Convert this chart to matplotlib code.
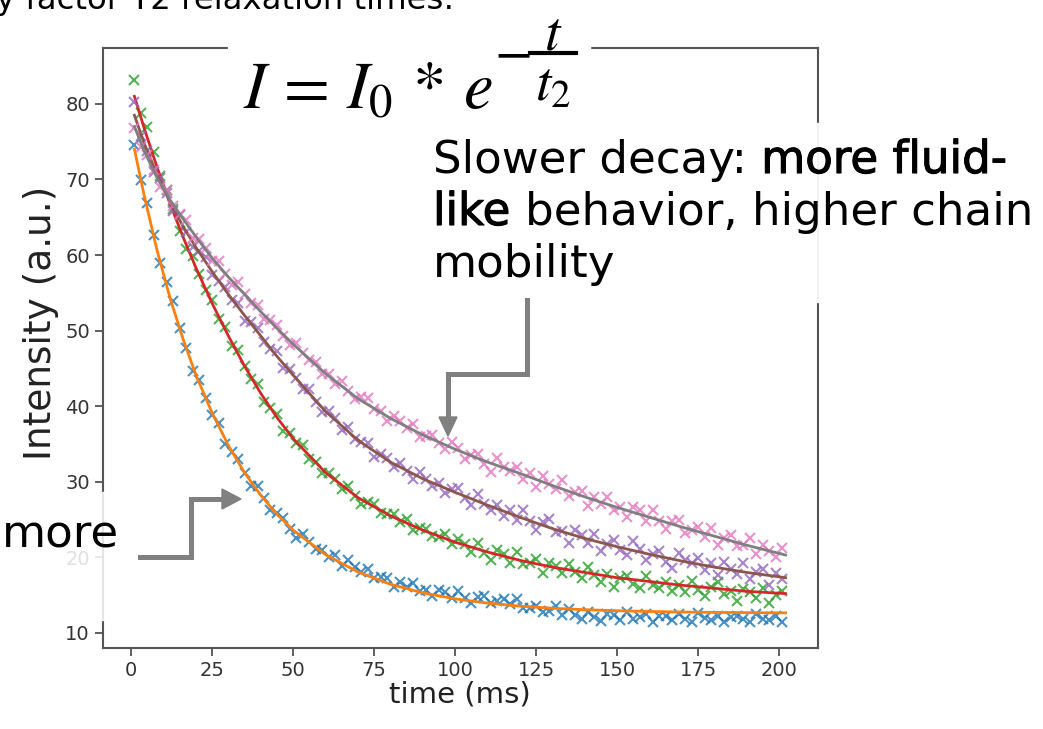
import matplotlib
matplotlib.use("Agg")
import matplotlib.pyplot as plt
import matplotlib.patheffects as pe
from matplotlib.lines import Line2D
from matplotlib.patches import Rectangle, Polygon

plt.rcParams['mathtext.fontset'] = 'stix'

# sample times (ms) of the measured points
t = list(range(1, 202, 2))

blue = [74.6, 69.9, 66.9, 62.7, 58.9, 56.5, 53.9, 50.4, 47.7, 44.6,
        43.4, 41.1, 38.8, 37.8, 35.0, 34.0, 33.0, 31.1, 29.5, 29.4,
        27.9, 26.2, 25.8, 25.2, 23.7, 22.6, 23.1, 22.0, 21.1, 21.0,
        20.1, 20.3, 18.9, 19.6, 18.7, 18.1, 18.5, 17.2, 17.4, 17.3,
        16.1, 16.7, 16.1, 16.6, 15.5, 15.7, 14.9, 15.7, 15.4, 14.6,
        15.5, 14.6, 14.0, 14.7, 14.9, 13.9, 14.2, 14.5, 13.8, 14.5,
        13.3, 13.3, 13.5, 12.8, 12.9, 13.6, 12.4, 13.1, 12.4, 11.9,
        12.8, 12.1, 11.6, 12.5, 12.4, 11.7, 12.7, 11.9, 12.1, 12.5,
        11.4, 12.3, 12.2, 11.7, 12.5, 11.9, 11.5, 12.6, 12.0, 11.7,
        12.3, 11.4, 12.1, 12.3, 11.8, 11.5, 12.5, 11.9, 11.7, 12.2,
        11.5]

green = [83.2, 78.8, 76.9, 73.6, 70.4, 68.6, 66.1, 63.2, 60.8, 59.9,
         57.5, 55.4, 54.0, 51.6, 50.5, 47.9, 47.4, 45.3, 43.6, 43.0,
         40.6, 39.8, 38.9, 36.7, 36.4, 35.1, 34.8, 33.0, 32.6, 31.1,
         31.2, 30.4, 29.1, 29.4, 28.1, 27.0, 27.3, 27.1, 25.8, 25.7,
         25.7, 24.7, 25.1, 23.6, 23.9, 23.8, 22.8, 22.7, 23.1, 21.7,
         22.4, 21.7, 20.7, 21.9, 20.6, 19.6, 21.0, 20.5, 19.2, 20.7,
         19.1, 19.3, 19.8, 17.9, 19.3, 18.8, 17.9, 19.1, 18.1, 17.3,
         18.7, 17.6, 16.8, 17.8, 16.1, 17.3, 17.5, 16.5, 15.9, 17.5,
         16.4, 15.9, 16.7, 15.5, 16.4, 15.4, 16.9, 15.7, 14.9, 16.1,
         16.7, 15.1, 15.5, 14.2, 15.8, 15.4, 14.6, 15.9, 14.0, 15.0,
         15.6]

purple = [80.2, 75.7, 73.8, 71.0, 70.2, 68.2, 65.8, 65.3, 63.0, 61.1,
          60.6, 59.7, 57.3, 56.6, 55.8, 54.0, 53.7, 51.3, 51.1, 50.3,
          48.5, 47.6, 47.3, 45.0, 44.9, 43.7, 42.3, 42.3, 40.6, 39.2,
          39.3, 38.4, 36.9, 37.2, 35.7, 35.2, 35.1, 33.3, 33.7, 33.1,
          32.0, 32.5, 31.4, 30.4, 31.3, 30.3, 29.5, 29.9, 28.5, 29.0,
          29.2, 27.8, 26.9, 28.4, 27.1, 26.3, 26.9, 25.5, 26.2, 24.9,
          26.2, 24.8, 23.6, 24.7, 25.1, 23.3, 23.5, 21.9, 23.6, 22.9,
          21.9, 23.1, 20.9, 21.7, 22.3, 21.0, 20.3, 22.1, 21.1, 19.6,
          20.4, 20.8, 19.4, 18.6, 20.6, 19.7, 19.2, 19.9, 18.3, 19.3,
          17.6, 19.4, 18.4, 17.8, 19.3, 17.1, 18.1, 18.4, 16.4, 17.9,
          17.1]

pink = [76.8, 74.3, 73.3, 71.3, 69.0, 68.6, 66.5, 65.4, 64.7, 62.3,
        62.1, 60.9, 59.2, 59.2, 57.5, 56.0, 56.4, 54.9, 53.6, 53.4,
        51.5, 51.4, 50.8, 49.3, 48.1, 48.4, 47.0, 46.1, 45.8, 44.3,
        44.2, 43.0, 43.3, 42.0, 40.9, 41.2, 41.1, 39.6, 39.4, 38.1,
        38.7, 38.1, 37.1, 37.6, 35.9, 36.1, 36.2, 35.1, 34.4, 35.2,
        34.5, 33.0, 33.5, 33.7, 32.3, 31.3, 33.1, 32.0, 31.4, 31.9,
        30.3, 31.1, 29.3, 30.8, 29.7, 29.0, 30.2, 28.1, 28.7, 28.8,
        26.8, 28.0, 27.1, 28.0, 26.2, 26.6, 25.4, 26.7, 26.2, 24.8,
        26.3, 24.8, 23.7, 24.8, 24.9, 23.2, 23.6, 24.0, 22.7, 23.9,
        21.6, 22.6, 22.9, 21.5, 21.6, 22.6, 20.5, 21.6, 20.9, 20.0,
        21.2]

# fitted curves, read at these times
t_fit = [1, 4, 8, 12, 16, 20, 25, 30, 35, 40, 45, 50, 60, 70, 80, 90,
         100, 110, 120, 130, 140, 150, 160, 170, 180, 190, 202]
fit_blue = [74.0, 67.9, 60.6, 54.3, 48.9, 44.1, 39.1, 34.8, 31.2, 28.2,
            25.7, 23.6, 20.35, 18.06, 16.44, 15.30, 14.50, 13.94, 13.54,
            13.26, 13.07, 12.93, 12.83, 12.76, 12.72, 12.68, 12.65]
fit_green = [81.0, 76.8, 71.6, 66.8, 62.4, 58.3, 53.6, 49.3, 45.3, 41.7,
             38.5, 35.7, 31.2, 27.9, 25.5, 23.6, 22.0, 20.7, 19.6, 18.7,
             18.0, 17.3, 16.8, 16.3, 15.9, 15.5, 15.2]
fit_purple = [78.5, 74.8, 70.6, 67.0, 63.8, 61.0, 57.8, 54.8, 52.0, 49.3,
              46.6, 44.1, 39.3, 35.5, 32.6, 30.4, 28.6, 26.9, 25.3, 23.8,
              22.5, 21.4, 20.4, 19.5, 18.7, 18.0, 17.3]
fit_pink = [77.0, 73.8, 70.2, 67.3, 64.8, 62.4, 59.6, 57.1, 54.8, 52.5,
            50.3, 48.2, 44.3, 41.0, 38.4, 36.2, 34.3, 32.6, 31.1, 29.5,
            28.0, 26.6, 25.3, 24.0, 22.8, 21.6, 20.3]

xticks = [0, 25, 50, 75, 100, 125, 150, 175, 200]
yticks = [10, 20, 30, 40, 50, 60, 70, 80]

W, H = 1043, 729


def fx(px):
    return px / W


def fy(py):
    return 1 - py / H


fig = plt.figure(figsize=(W / 100, H / 100), dpi=100)
ax = fig.add_axes([fx(103), fy(648), (818 - 103) / W, (648 - 48) / H])

series = [(blue, fit_blue, '#1f77b4', '#ff7f0e'),
          (green, fit_green, '#2ca02c', '#d62728'),
          (purple, fit_purple, '#9467bd', '#8c564b'),
          (pink, fit_pink, '#e377c2', '#7f7f7f')]
for data, fit, c_data, c_fit in series:
    ax.plot(t, data, 'x', color=c_data, ms=7.5, mew=1.5, alpha=0.8)
    ax.plot(t_fit, fit, '-', color=c_fit, lw=2)

ax.set_xlim(-8.7, 212.0)
ax.set_ylim(8.0, 87.4)
ax.set_xticks(xticks)
ax.set_yticks(yticks)
ax.tick_params(labelsize=14, length=6, width=1.2, color='#444444',
               labelcolor='#333333')
for s in ax.spines.values():
    s.set_color('#555555')
    s.set_linewidth(1.5)

fig.text(fx(460), fy(694), 'time (ms)', fontsize=21, color='#222222',
         ha='center', va='center')
fig.text(fx(41), fy(323), 'Intensity (a.u.)', fontsize=27, color='#222222',
         ha='center', va='center', rotation=90)

# white boxes of the slide overlays
fig.add_artist(Rectangle((fx(228), fy(118)), (590 - 228) / W, 118 / H,
                         transform=fig.transFigure, color='white', zorder=1))
fig.add_artist(Rectangle((fx(425), fy(302)), (W - 425) / W, (302 - 123) / H,
                         transform=fig.transFigure, color='white', alpha=0.93,
                         zorder=1))
fig.add_artist(Rectangle((0, fy(620)), 117 / W, (620 - 492) / H,
                         transform=fig.transFigure, color='white', alpha=0.85,
                         zorder=1))

r = fig.canvas.get_renderer()

# cut-off slide title, scaled to end near x = 455 px
title = fig.text(fx(-4), fy(9), 'y factor T2 relaxation times:',
                 fontsize=24, va='baseline')
w = title.get_window_extent(r).width
title.set_fontsize(24 * 459 / w)

# formula
fig.text(fx(243), fy(108), r'$I\,=\,I_0\,*\,e$', fontsize=48, va='baseline')
fig.text(fx(512), fy(53), r'$-$', fontsize=40, ha='center', va='center')
fig.text(fx(553), fy(50), r'$t$', fontsize=40, ha='center', va='baseline')
fig.text(fx(553), fy(100), r'$t_2$', fontsize=40, ha='center', va='baseline')
fig.add_artist(Line2D([fx(530), fx(576)], [fy(53), fy(53)], lw=3,
                      color='black', transform=fig.transFigure))

# annotation text
fs = 32.5
heavy = [pe.withStroke(linewidth=0.8, foreground='black')]


def piece(x, y, s, effects=None):
    txt = fig.text(fx(x), fy(y), s, fontsize=fs, va='baseline',
                   path_effects=effects)
    return txt.get_window_extent(r).x1


probe1 = fig.text(0, 0, 'a a', fontsize=fs)
probe2 = fig.text(0, 0, 'aa', fontsize=fs)
space = probe1.get_window_extent(r).width - probe2.get_window_extent(r).width
probe1.remove()
probe2.remove()

x1 = piece(433, 173, 'Slower decay:')
piece(x1 + space, 173, 'more fluid-', heavy)
x1 = piece(433, 225, 'like', heavy)
piece(x1 + space, 225, 'behavior, higher chain')
piece(433, 277, 'mobility')
piece(2, 547, 'more')

# elbow arrows
grey = '#808080'
fig.add_artist(Line2D([fx(527), fx(527), fx(448), fx(448)],
                      [fy(300), fy(374), fy(374), fy(420)], lw=3.6,
                      color=grey, transform=fig.transFigure,
                      solid_joinstyle='miter'))
fig.add_artist(Polygon([(fx(439), fy(417)), (fx(457), fy(417)),
                        (fx(448), fy(436))], closed=True, color=grey,
                       transform=fig.transFigure))
fig.add_artist(Line2D([fx(140), fx(191), fx(191), fx(225)],
                      [fy(557), fy(557), fy(499), fy(499)], lw=3.6,
                      color=grey, transform=fig.transFigure,
                      solid_joinstyle='miter'))
fig.add_artist(Polygon([(fx(222), fy(489)), (fx(222), fy(509)),
                        (fx(241), fy(499))], closed=True, color=grey,
                       transform=fig.transFigure))

fig.savefig('out.png', dpi=100)
